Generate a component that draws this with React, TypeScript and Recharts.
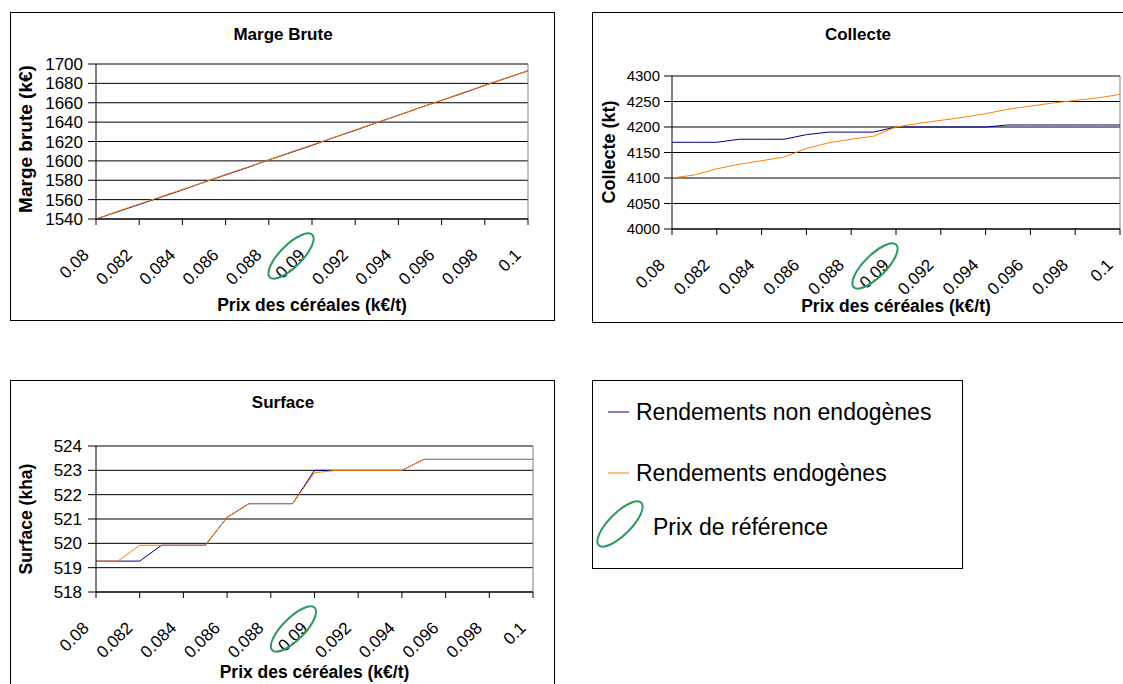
import React from "react";
import { LineChart, Line, XAxis, YAxis, CartesianGrid, ReferenceLine } from "recharts";

// Prix des céréales (k€/t), un point tous les 0.001
const prix = [
  0.08, 0.081, 0.082, 0.083, 0.084, 0.085, 0.086, 0.087, 0.088, 0.089, 0.09,
  0.091, 0.092, 0.093, 0.094, 0.095, 0.096, 0.097, 0.098, 0.099, 0.1,
];
const xTicks = [0.08, 0.082, 0.084, 0.086, 0.088, 0.09, 0.092, 0.094, 0.096, 0.098, 0.1];
const prixReference = 0.09;

// Marge brute (k€)
const margeNonEndo = [
  1540, 1547.5, 1555, 1562.5, 1570, 1578, 1585.5, 1593, 1601, 1608.5, 1616,
  1624, 1631.5, 1639.5, 1647, 1655, 1662.5, 1670, 1678, 1685.5, 1693,
];
const margeEndo = [
  1540, 1548, 1555.5, 1563, 1570.5, 1578, 1586, 1593.5, 1601, 1609, 1616.5,
  1624, 1632, 1639.5, 1647, 1655, 1662.5, 1670.5, 1678, 1685.5, 1693,
];
const margeTicks = [1540, 1560, 1580, 1600, 1620, 1640, 1660, 1680, 1700];

// Collecte (kt)
const collecteNonEndo = [
  4170, 4170, 4170, 4176, 4176, 4176, 4185, 4190, 4190, 4190, 4200,
  4200, 4200, 4200, 4200, 4204, 4204, 4204, 4204, 4204, 4204,
];
const collecteEndo = [
  4100, 4106, 4118, 4127, 4134, 4141, 4158, 4169, 4176, 4182, 4200,
  4207, 4213, 4219, 4226, 4235, 4241, 4247, 4252, 4257, 4264,
];
const collecteTicks = [4000, 4050, 4100, 4150, 4200, 4250, 4300];

// Surface (kha)
const surfaceNonEndo = [
  519.27, 519.27, 519.27, 519.92, 519.92, 519.92, 521.07, 521.63, 521.63, 521.63, 523.0,
  523.0, 523.0, 523.0, 523.0, 523.45, 523.45, 523.45, 523.45, 523.45, 523.45,
];
const surfaceEndo = [
  519.27, 519.27, 519.92, 519.92, 519.92, 519.92, 521.07, 521.63, 521.63, 521.63, 522.9,
  523.0, 523.0, 523.0, 523.0, 523.45, 523.45, 523.45, 523.45, 523.45, 523.45,
];
const surfaceTicks = [518, 519, 520, 521, 522, 523, 524];

const FONT = '"Liberation Sans", Arial, Helvetica, sans-serif';
const BLUE = "#000080";
const ORANGE = "#FF8000";
const GREEN = "#2E9A5E";

const rowsOf = (a: number[], b: number[]) =>
  prix.map((p, i) => ({ prix: p, nonEndo: a[i], endo: b[i] }));

const XTick = (props: any) => {
  const { x, y, payload } = props;
  const v = payload.value;
  return (
    <g transform={`translate(${x},${y})`}>
      <text
        transform="translate(-6,29) rotate(-45)"
        textAnchor="end"
        fontSize={17}
        fontFamily={FONT}
        fill="#000"
      >
        {String(v)}
      </text>
      {Math.abs(v - prixReference) < 1e-9 && (
        <ellipse
          cx={-21}
          cy={29}
          rx={30}
          ry={11}
          transform="rotate(-45 -21 29)"
          fill="none"
          stroke={GREEN}
          strokeWidth={2}
        />
      )}
    </g>
  );
};

type Box = { left: number; top: number; width: number; height: number };
type Plot = { left: number; top: number; right: number; bottom: number };

function Panel(props: {
  frame: Box;
  plot: Plot;
  title: string;
  titleAt: [number, number];
  yTitle: string;
  yTitleAt: [number, number];
  yTitleSize: number;
  xTitleY: number;
  rows: any[];
  yTicks: number[];
  yFont: number;
  yGap: number;
}) {
  const { frame, plot, rows, yTicks } = props;
  const ox = frame.left + 1;
  const oy = frame.top + 1;
  const W = frame.width - 2;
  const H = frame.height - 2;
  const yMin = yTicks[0];
  const yMax = yTicks[yTicks.length - 1];
  const label: React.CSSProperties = {
    position: "absolute",
    fontFamily: FONT,
    fontWeight: "bold",
    whiteSpace: "nowrap",
    color: "#000",
    lineHeight: 1,
  };
  return (
    <>
      <div
        style={{
          position: "absolute",
          left: frame.left,
          top: frame.top,
          width: frame.width,
          height: frame.height,
          boxSizing: "border-box",
          border: "1px solid #000",
          background: "#fff",
        }}
      />
      <div style={{ position: "absolute", left: ox, top: oy }}>
        <LineChart
          width={W}
          height={H}
          data={rows}
          margin={{ top: plot.top - oy, right: ox + W - plot.right, bottom: 0, left: 0 }}
        >
          <CartesianGrid vertical={false} stroke="#000" strokeDasharray="" />
          <XAxis
            dataKey="prix"
            type="number"
            domain={[xTicks[0], xTicks[xTicks.length - 1]]}
            ticks={xTicks}
            interval={0}
            height={oy + H - plot.bottom}
            tickSize={6}
            tickMargin={2}
            tick={<XTick />}
            stroke="#000"
            allowDataOverflow
          />
          <YAxis
            type="number"
            domain={[yMin, yMax]}
            ticks={yTicks}
            interval={0}
            width={plot.left - ox}
            tickSize={8}
            tickMargin={props.yGap}
            tick={{ fontSize: props.yFont, fill: "#000", fontFamily: FONT }}
            stroke="#000"
            allowDataOverflow
          />
          <ReferenceLine y={yMax} stroke="#808080" />
          <ReferenceLine x={xTicks[xTicks.length - 1]} stroke="#808080" />
          <Line type="linear" dataKey="nonEndo" stroke={BLUE} strokeWidth={1} dot={false} isAnimationActive={false} />
          <Line type="linear" dataKey="endo" stroke={ORANGE} strokeWidth={1} dot={false} isAnimationActive={false} />
        </LineChart>
      </div>
      <div
        style={{
          ...label,
          fontSize: 17,
          left: props.titleAt[0],
          top: props.titleAt[1],
          transform: "translate(-50%, -50%)",
        }}
      >
        {props.title}
      </div>
      <div
        style={{
          ...label,
          fontSize: props.yTitleSize,
          left: props.yTitleAt[0],
          top: props.yTitleAt[1],
          transform: "translate(-50%, -50%) rotate(-90deg)",
        }}
      >
        {props.yTitle}
      </div>
      <div
        style={{
          ...label,
          fontSize: 17.5,
          left: (plot.left + plot.right) / 2,
          top: props.xTitleY,
          transform: "translate(-50%, -50%)",
        }}
      >
        Prix des céréales (k€/t)
      </div>
    </>
  );
}

function LegendBox() {
  return (
    <div
      style={{
        position: "absolute",
        left: 592,
        top: 380,
        width: 371,
        height: 189,
        boxSizing: "border-box",
        border: "1px solid #000",
        background: "#fff",
      }}
    >
      <svg width={369} height={187} style={{ display: "block" }}>
        <line x1={15} y1={31} x2={36} y2={31} stroke={BLUE} strokeWidth={1} />
        <text x={43} y={31} dominantBaseline="central" fontSize={23} fontFamily={FONT} fill="#000">
          Rendements non endogènes
        </text>
        <line x1={15} y1={92} x2={36} y2={92} stroke={ORANGE} strokeWidth={1} />
        <text x={43} y={92} dominantBaseline="central" fontSize={23} fontFamily={FONT} fill="#000">
          Rendements endogènes
        </text>
        <ellipse cx={27} cy={143} rx={30} ry={11} transform="rotate(-45 27 143)" fill="none" stroke={GREEN} strokeWidth={2} />
        <text x={60} y={146} dominantBaseline="central" fontSize={23} fontFamily={FONT} fill="#000">
          Prix de référence
        </text>
      </svg>
    </div>
  );
}

export default function App() {
  return (
    <div
      style={{
        position: "absolute",
        left: 0,
        top: 0,
        width: 1123,
        height: 684,
        overflow: "hidden",
        background: "#fff",
      }}
    >
      <Panel
        frame={{ left: 10, top: 12, width: 545, height: 309 }}
        plot={{ left: 96, top: 64, right: 528, bottom: 219 }}
        title="Marge Brute"
        titleAt={[283, 34]}
        yTitle="Marge brute (k€)"
        yTitleAt={[25, 139]}
        yTitleSize={19}
        xTitleY={306}
        rows={rowsOf(margeNonEndo, margeEndo)}
        yTicks={margeTicks}
        yFont={17}
        yGap={5}
      />
      <Panel
        frame={{ left: 592, top: 12, width: 545, height: 311 }}
        plot={{ left: 672, top: 76, right: 1120, bottom: 229 }}
        title="Collecte"
        titleAt={[858, 34]}
        yTitle="Collecte (kt)"
        yTitleAt={[609, 152]}
        yTitleSize={18}
        xTitleY={307}
        rows={rowsOf(collecteNonEndo, collecteEndo)}
        yTicks={collecteTicks}
        yFont={15}
        yGap={4}
      />
      <Panel
        frame={{ left: 10, top: 380, width: 545, height: 330 }}
        plot={{ left: 96, top: 446, right: 533, bottom: 592 }}
        title="Surface"
        titleAt={[283, 402]}
        yTitle="Surface (kha)"
        yTitleAt={[27, 519]}
        yTitleSize={17.5}
        xTitleY={673}
        rows={rowsOf(surfaceNonEndo, surfaceEndo)}
        yTicks={surfaceTicks}
        yFont={17}
        yGap={6}
      />
      <LegendBox />
    </div>
  );
}
